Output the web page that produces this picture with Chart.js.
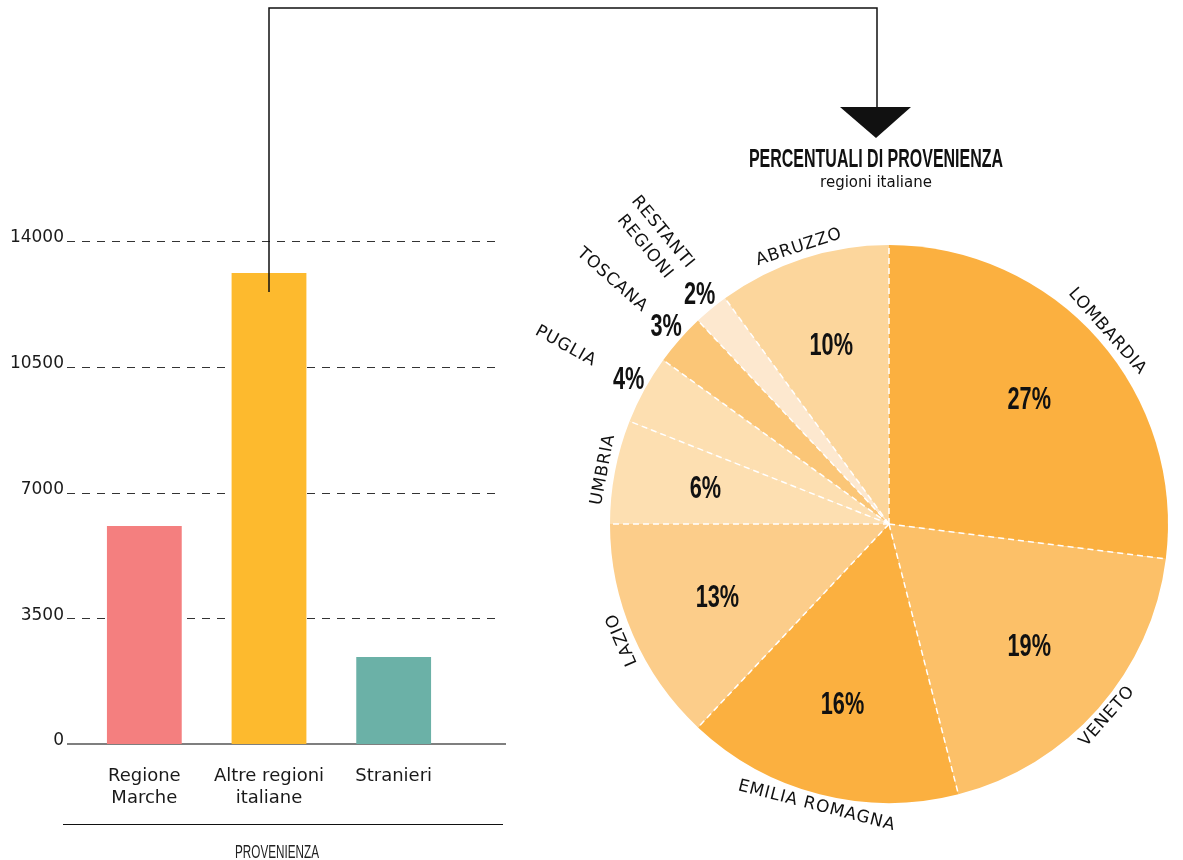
<!DOCTYPE html>
<html>
<head>
<meta charset="utf-8">
<title>Provenienza</title>
<script src="https://cdn.jsdelivr.net/npm/chart.js@4.4.1/dist/chart.umd.min.js"></script>
<style>
  body { margin: 0; background: #fff; }
  .wrap { position: relative; width: 1183px; height: 860px; }
  .wrap canvas { position: absolute; left: 0; top: 0; }
</style>
</head>
<body>
<div class="wrap">
  <canvas id="bars" width="1183" height="860"></canvas>
  <canvas id="pie" width="1183" height="860"></canvas>
</div>
<script>
// bar chart
const barLabels = [['Regione', 'Marche'], ['Altre regioni', 'italiane'], 'Stranieri'];
const barValues = [6070, 13110, 2420];
const barColors = ['#f47f7f', '#fdba2e', '#6bb1a7'];
const yTicks = [0, 3500, 7000, 10500, 14000];

// pie (percent, clockwise from 12 o'clock)
const regions = ['LOMBARDIA', 'VENETO', 'EMILIA ROMAGNA', 'LAZIO', 'UMBRIA', 'PUGLIA', 'TOSCANA', ['RESTANTI', 'REGIONI'], 'ABRUZZO'];
const shares = [27, 19, 16, 13, 6, 4, 3, 2, 10];
const sliceColors = ['#fbb040', '#fcc068', '#fbb040', '#fccd8a', '#fddfb1', '#fddfb1', '#fbc677', '#fde8cf', '#fcd69c'];

const SANS = '"DejaVu Sans", sans-serif';
const NARROW = '"Liberation Sans", Arial, sans-serif';

Chart.defaults.font.family = SANS;
Chart.defaults.color = '#1a1a1a';

// squeeze text horizontally to get a condensed look
function condensed(ctx, text, x, y, font, sx) {
  ctx.save();
  ctx.font = font;
  ctx.translate(x, y);
  ctx.scale(sx, 1);
  ctx.fillText(text, 0, 0);
  ctx.restore();
}

const barDecor = {
  id: 'barDecor',
  beforeDatasetsDraw(chart) {
    const {ctx, chartArea: a, scales: {y}} = chart;
    ctx.save();
    ctx.lineWidth = 1;
    ctx.strokeStyle = '#333';
    ctx.setLineDash([8, 7]);
    y.ticks.forEach(t => {
      if (t.value === 0) return;
      const py = Math.round(y.getPixelForValue(t.value)) + 0.5;
      ctx.beginPath();
      ctx.moveTo(a.left - 15, py);
      ctx.lineTo(a.right + 45, py);
      ctx.stroke();
    });
    ctx.setLineDash([]);
    ctx.strokeStyle = '#555';
    ctx.lineWidth = 1.5;
    const y0 = y.getPixelForValue(0);
    ctx.beginPath();
    ctx.moveTo(a.left - 15, y0);
    ctx.lineTo(a.right + 50, y0);
    ctx.stroke();
    ctx.restore();
  },
  afterDatasetsDraw(chart) {
    const {ctx, chartArea: a} = chart;
    const bar = chart.getDatasetMeta(0).data[1];
    ctx.save();
    ctx.strokeStyle = '#111';
    ctx.lineWidth = 1.5;
    ctx.beginPath();
    ctx.moveTo(bar.x, bar.y + 19);
    ctx.lineTo(bar.x, 8);
    ctx.lineTo(877, 8);
    ctx.lineTo(877, 108);
    ctx.stroke();
    ctx.lineWidth = 1;
    ctx.beginPath();
    ctx.moveTo(a.left - 19, 824.5);
    ctx.lineTo(a.right + 47, 824.5);
    ctx.stroke();
    ctx.fillStyle = '#222';
    ctx.textAlign = 'center';
    condensed(ctx, 'PROVENIENZA', 277, 858, '18px ' + NARROW, 0.65);
    ctx.restore();
  }
};

const pieDecor = {
  id: 'pieDecor',
  afterDatasetsDraw(chart) {
    const {ctx} = chart;
    const arcs = chart.getDatasetMeta(0).data;
    ctx.save();

    // dashed white separators between slices
    ctx.strokeStyle = '#fff';
    ctx.lineWidth = 1.5;
    ctx.setLineDash([6, 4]);
    arcs.forEach(arc => {
      const {x, y, startAngle, outerRadius: r} = arc.getProps(['x', 'y', 'startAngle', 'outerRadius'], true);
      ctx.beginPath();
      ctx.moveTo(x, y);
      ctx.lineTo(x + Math.cos(startAngle) * r, y + Math.sin(startAngle) * r);
      ctx.stroke();
    });
    ctx.setLineDash([]);

    ctx.fillStyle = '#111';
    ctx.textAlign = 'center';
    ctx.textBaseline = 'middle';
    arcs.forEach((arc, i) => {
      const {x, y, startAngle, endAngle, outerRadius: r} =
        arc.getProps(['x', 'y', 'startAngle', 'endAngle', 'outerRadius'], true);
      const mid = (startAngle + endAngle) / 2;
      const cos = Math.cos(mid), sin = Math.sin(mid);
      const small = shares[i] < 5;
      const pr = small ? r + 18 : r * 0.67;
      condensed(ctx, shares[i] + '%', x + cos * pr, y + sin * pr, 'bold 31px ' + NARROW, 0.7);

      const lines = Array.isArray(regions[i]) ? regions[i] : [regions[i]];
      ctx.save();
      ctx.font = '17px ' + SANS;
      ctx.letterSpacing = '0.8px';
      if (small) {
        ctx.translate(x + cos * (r + 90), y + sin * (r + 90));
        ctx.rotate(mid + Math.PI);
      } else {
        ctx.translate(x + cos * (r + 12), y + sin * (r + 12));
        const deg = (mid * 180 / Math.PI + 90 + 360) % 360;
        ctx.rotate(deg > 90 && deg < 230 ? mid - Math.PI / 2 : mid + Math.PI / 2);
      }
      lines.forEach((l, k) => ctx.fillText(l, 0, (k - (lines.length - 1) / 2) * 23));
      ctx.restore();
    });

    // title + arrow head
    ctx.textBaseline = 'alphabetic';
    condensed(ctx, 'PERCENTUALI DI PROVENIENZA', 876, 167, 'bold 25px ' + NARROW, 0.64);
    ctx.font = '15px ' + SANS;
    ctx.fillText('regioni italiane', 876, 187);
    ctx.beginPath();
    ctx.moveTo(840, 107);
    ctx.lineTo(911, 107);
    ctx.lineTo(876, 138);
    ctx.closePath();
    ctx.fill();
    ctx.restore();
  }
};

new Chart(document.getElementById('bars'), {
  type: 'bar',
  data: {
    labels: barLabels,
    datasets: [{ data: barValues, backgroundColor: barColors, barPercentage: 0.6, categoryPercentage: 1 }]
  },
  options: {
    responsive: false,
    animation: false,
    events: [],
    layout: { padding: { left: 0, top: 241, right: 727, bottom: 16 } },
    plugins: { legend: { display: false }, tooltip: { enabled: false } },
    scales: {
      x: {
        grid: { display: false, drawTicks: false },
        border: { display: false },
        ticks: { padding: 21, maxRotation: 0, autoSkip: false, font: { size: 18, lineHeight: 1.25 } },
        afterFit: s => { s.height = 100; }
      },
      y: {
        min: 0,
        max: 14000,
        afterBuildTicks: s => { s.ticks = yTicks.map(v => ({ value: v })); },
        grid: { display: false, drawTicks: false },
        border: { display: false },
        ticks: { padding: 18, font: { size: 17 }, labelOffset: -3, callback: v => String(v) },
        afterFit: s => { s.width = 82; }
      }
    }
  },
  plugins: [barDecor]
});

new Chart(document.getElementById('pie'), {
  type: 'pie',
  data: {
    labels: regions,
    datasets: [{ data: shares, backgroundColor: sliceColors, borderWidth: 0 }]
  },
  options: {
    responsive: false,
    animation: false,
    events: [],
    layout: { padding: { left: 610, right: 15, top: 245, bottom: 57 } },
    plugins: { legend: { display: false }, tooltip: { enabled: false } }
  },
  plugins: [pieDecor]
});
</script>
</body>
</html>
